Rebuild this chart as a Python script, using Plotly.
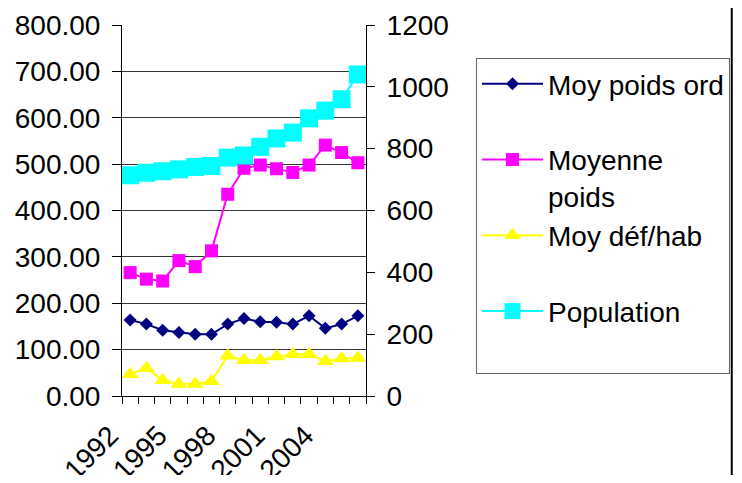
import plotly.graph_objects as go

years = list(range(1992, 2007))
tick_years = [1992, 1995, 1998, 2001, 2004]

moy_poids_ord = [164, 155, 142, 137, 133, 133, 155, 167, 160, 159, 155, 173, 146, 155, 173]
moyenne_poids = [266, 252, 248, 292, 279, 313, 435, 491, 498, 490, 482, 498, 541, 525, 503]
moy_def_hab = [47, 60, 34, 26, 26, 32, 87, 77, 77, 85, 90, 90, 75, 81, 82]
population = [714, 722, 727, 733, 741, 744, 771, 778, 806, 833, 852, 898, 923, 960, 1040]

FONT = "Liberation Sans, Arial, sans-serif"
FS = 28

# the page body has an 8px margin; the figure is sized/placed to compensate
OFF = 8
W, H = 742 - 2 * OFF, 483 - 2 * OFF
PL, PR = 122 - OFF, 366.5 - OFF  # plot area left/right in figure px
PW = PR - PL
BORDER_X = (733 - OFF - PL) / PW

fig = go.Figure()
fig.add_trace(go.Scatter(
    x=years, y=moy_poids_ord, name="Moy poids ord<br> ", mode="lines+markers",
    line=dict(color="#000080", width=2),
    marker=dict(symbol="diamond", size=10, color="#000080"),
    legendgroup="a"))
fig.add_trace(go.Scatter(
    x=years, y=moyenne_poids, name="Moyenne<br>poids", mode="lines+markers",
    line=dict(color="#FF00FF", width=2),
    marker=dict(symbol="square", size=13, color="#FF00FF"),
    legendgroup="b"))
fig.add_trace(go.Scatter(
    x=years, y=moy_def_hab, name="Moy déf/hab<br> ", mode="lines+markers",
    line=dict(color="#FFFF00", width=2),
    marker=dict(symbol="triangle-up", size=15, color="#FFFF00"),
    legendgroup="c"))
fig.add_trace(go.Scatter(
    x=years, y=population, name="Population<br> ", mode="lines+markers",
    line=dict(color="#00FFFF", width=2),
    marker=dict(symbol="square", size=18, color="#00FFFF"),
    yaxis="y2", legendgroup="d"))

fig.update_layout(
    width=W, height=H, autosize=False,
    margin=dict(l=PL, r=W - PR, t=25 - OFF, b=H - (396 - OFF)),
    paper_bgcolor="white", plot_bgcolor="white",
    font=dict(family=FONT, size=FS, color="black"),
    showlegend=True,
    legend=dict(
        xref="container", yref="container",
        x=(476 - OFF) / W, y=1 - (58 - OFF) / H, xanchor="left", yanchor="top",
        bordercolor="#666666", borderwidth=1, bgcolor="white",
        font=dict(family=FONT, size=FS, color="black"),
        tracegroupgap=0, itemwidth=61, valign="top", maxheight=420,
    ),
    xaxis=dict(
        range=[1991.5, 2006.5], tickmode="array", tickvals=tick_years,
        ticktext=[str(y) for y in tick_years], tickangle=-45,
        ticks="outside", ticklen=0, tickwidth=0,
        ticklabelstandoff=11, ticklabelshift=-20,
        showline=True, linecolor="black", linewidth=1,
        showgrid=False, zeroline=False, automargin=False,
        minor=dict(tick0=1991.5, dtick=1, ticks="outside", ticklen=7,
                   tickcolor="black", tickwidth=1, showgrid=False),
    ),
    yaxis=dict(
        range=[0, 800], dtick=100, tickformat=".2f",
        ticks="outside", ticklen=9, tickcolor="black",
        showline=True, linecolor="black", linewidth=1,
        showgrid=True, gridcolor="#333333", gridwidth=1,
        zeroline=False, ticklabelstandoff=6, automargin=False,
    ),
    yaxis2=dict(
        range=[0, 1200], dtick=200, overlaying="y", side="right",
        ticks="outside", ticklen=8, tickcolor="black",
        showline=True, linecolor="black", linewidth=1,
        showgrid=False, zeroline=False, ticklabelstandoff=6, automargin=False,
    ),
    shapes=[dict(type="line", xref="paper", yref="paper", layer="above",
                 x0=BORDER_X, x1=BORDER_X, y0=-0.3, y1=1.1,
                 line=dict(color="black", width=2))],
)

fig.write_html("out.html")
